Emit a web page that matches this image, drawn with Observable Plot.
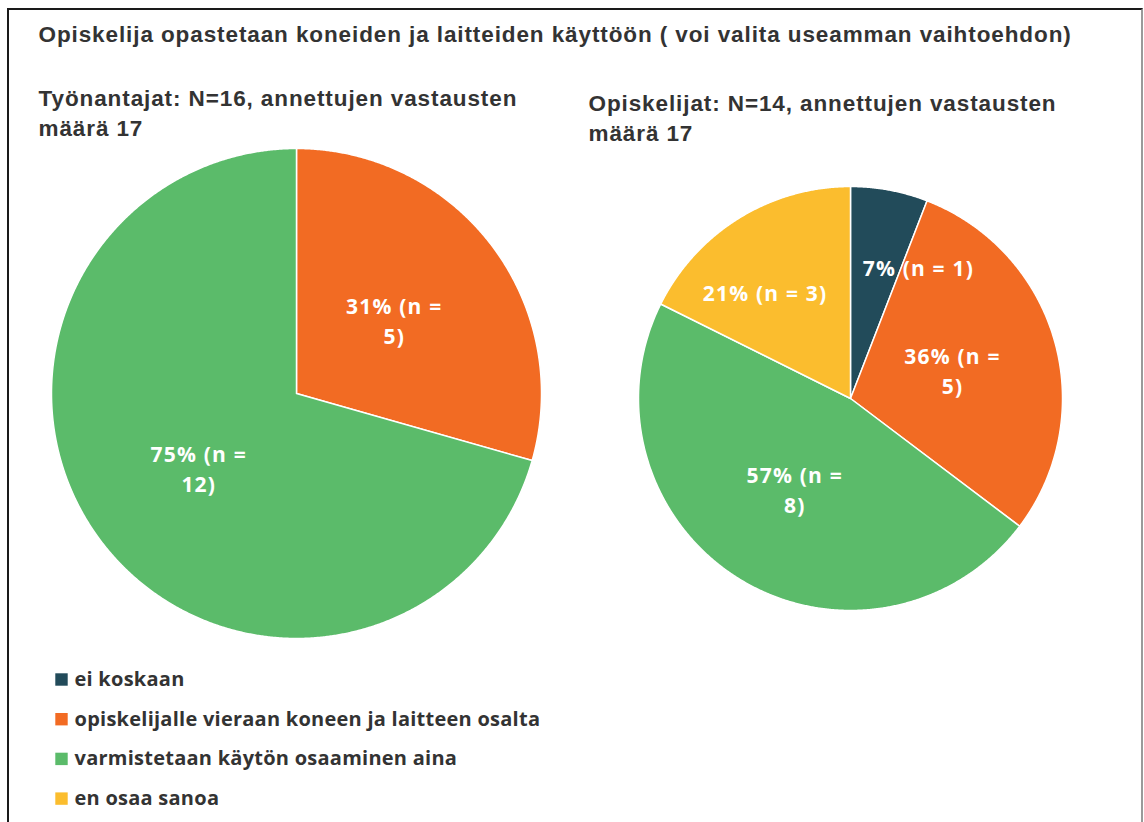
<!DOCTYPE html>
<html>
<head>
<meta charset="utf-8">
<script src="https://cdn.jsdelivr.net/npm/d3@7"></script>
<script src="https://cdn.jsdelivr.net/npm/@observablehq/plot@0.6"></script>
<style>
  body { margin: 0; background: #fff; }
  #wrap { position: relative; width: 1144px; height: 822px; overflow: hidden; }
  #border { position: absolute; left: 7px; top: 8px; width: 1132px; height: 840px;
    border-left: 2px solid #1a1a1a; border-top: 2px solid #1a1a1a; border-right: 2px solid #9a9a9a; pointer-events: none; }
</style>
</head>
<body>
<div id="wrap"><div id="border"></div></div>
<script>
const title = "Opiskelija opastetaan koneiden ja laitteiden käyttöön ( voi valita useamman vaihtoehdon)";
const categories = ["ei koskaan", "opiskelijalle vieraan koneen ja laitteen osalta", "varmistetaan käytön osaaminen aina", "en osaa sanoa"];
const colors = ["#224b5a", "#f26b23", "#5bbb6a", "#fbbd2e"];
const groupNames = ["Työnantajat", "Opiskelijat"];
const groupN = [16, 14];
const groupAnswers = [17, 17];
const employerCounts = [0, 5, 12, 0];
const studentCounts = [1, 5, 8, 3];

const W = 1144, H = 822;
const pies = [
  {name: groupNames[0], N: groupN[0], answers: groupAnswers[0], counts: employerCounts, cx: 296, cy: 393, r: 245},
  {name: groupNames[1], N: groupN[1], answers: groupAnswers[1], counts: studentCounts, cx: 850, cy: 398, r: 212}
];

const slicePts = [];
const labels = [];
pies.forEach((p, pi) => {
  const rows = categories.map((c, i) => ({category: c, n: p.counts[i]})).filter(d => d.n > 0);
  const arcs = d3.pie().sort(null).value(d => d.n).startAngle(0).endAngle(2 * Math.PI)(rows);
  const total = d3.sum(rows, d => d.n);
  arcs.forEach((a, k) => {
    const id = pi + "-" + k;
    slicePts.push({id, category: a.data.category, x: p.cx, y: p.cy});
    const steps = Math.max(2, Math.ceil((a.endAngle - a.startAngle) / 0.005));
    for (let s = 0; s <= steps; s++) {
      const t = a.startAngle + (a.endAngle - a.startAngle) * s / steps;
      slicePts.push({id, category: a.data.category, x: p.cx + p.r * Math.sin(t), y: p.cy - p.r * Math.cos(t)});
    }
    slicePts.push({id, category: a.data.category, x: p.cx, y: p.cy});
    const frac = a.data.n / total;
    const mid = (a.startAngle + a.endAngle) / 2;
    const pct = Math.round(a.data.n / p.N * 100);
    const small = frac < 0.2;
    let ang = mid, rf = 0.5;
    if (small) { ang = mid - 0.12; rf = 0.645; }
    if (frac < 0.1) { ang = mid + 0.29; rf = 0.7; }
    const text = small ? `${pct}% (n = ${a.data.n})` : `${pct}% (n =\n${a.data.n})`;
    labels.push({x: p.cx + rf * p.r * Math.sin(ang), y: p.cy - rf * p.r * Math.cos(ang), text});
  });
});

const headings = [
  {x: 38, y: 98, text: `${pies[0].name}: N=${pies[0].N}, annettujen vastausten`},
  {x: 38, y: 128, text: `määrä ${pies[0].answers}`},
  {x: 588, y: 103, text: `${pies[1].name}: N=${pies[1].N}, annettujen vastausten`},
  {x: 588, y: 133, text: `määrä ${pies[1].answers}`}
];
const legendRows = categories.map((c, i) => ({category: c, x: 61, y: 679 + i * 39.7}));

const chart = Plot.plot({
  width: W, height: H,
  margin: 0,
  x: {domain: [0, W], range: [0, W], axis: null},
  y: {domain: [0, H], range: [0, H], axis: null},
  color: {domain: categories, range: colors, legend: false},
  marks: [
    Plot.line(slicePts, {x: "x", y: "y", z: "id", fill: "category", stroke: "white", strokeWidth: 1.5, curve: "linear"}),
    Plot.text(labels, {x: "x", y: "y", text: "text", fill: "white", fontFamily: "Open Sans", fontWeight: "bold", fontSize: 21, lineHeight: 1.43}),
    Plot.text([title], {x: () => 38, y: () => 34, text: d => d, textAnchor: "start", fontFamily: "Liberation Sans", fontWeight: "bold", fontSize: 22.5, fill: "#333"}),
    Plot.text(headings, {x: "x", y: "y", text: "text", textAnchor: "start", fontFamily: "Liberation Sans", fontWeight: "bold", fontSize: 22.5, fill: "#333"}),
    Plot.dot(legendRows, {x: "x", y: "y", symbol: "square", r: 7, fill: "category", stroke: null}),
    Plot.text(legendRows, {x: d => d.x + 13, y: "y", text: "category", textAnchor: "start", fontFamily: "Open Sans", fontWeight: "bold", fontSize: 20, fill: "#333"})
  ]
});
d3.select(chart).selectAll('g[font-family="Liberation Sans"]').attr("letter-spacing", "0.9px");
d3.select(chart).selectAll('g[font-family="Open Sans"][fill="white"]').attr("letter-spacing", "1.2px");
d3.select(chart).selectAll('g[font-family="Open Sans"][fill="#333"]').attr("letter-spacing", "0.25px");
document.getElementById("wrap").prepend(chart);
</script>
</body>
</html>
